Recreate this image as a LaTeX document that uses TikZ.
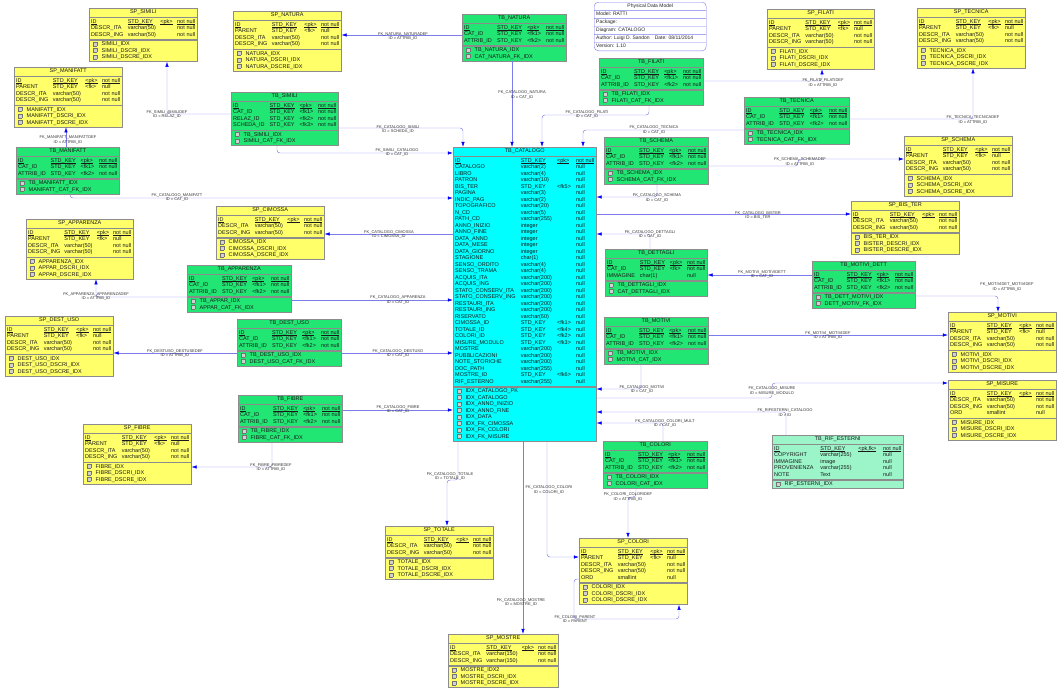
\documentclass[tikz,border=0pt]{standalone}
\usepackage{fontspec}
\setmainfont{Liberation Sans}
\usetikzlibrary{arrows.meta, positioning, fit, shapes.multipart}

\definecolor{spyellow}{HTML}{FFFF6A}
\definecolor{tbgreen}{HTML}{22E673}
\definecolor{catcyan}{HTML}{00FFFF}
\definecolor{rifmint}{HTML}{9CF5C9}
\definecolor{fkline}{HTML}{7C7CEC}

\newcommand{\pk}[1]{\setbox0\hbox{#1}\rlap{\rule[-0.8pt]{\wd0}{0.3pt}}\box0}
\newcommand{\ix}{\strut\hspace*{2pt}{\setlength{\fboxsep}{0pt}\setlength{\fboxrule}{0.3pt}\fcolorbox{black!55}{black!18}{\rule{0pt}{3.6pt}\hspace{3.4pt}}}\hspace{4.5pt}}
\newcommand{\pkrow}{\pk{ID} & \pk{STD\_KEY} & \pk{<pk>} & \pk{not null}\\}
\newcommand{\sprows}{\pkrow PARENT & STD\_KEY & <fk> & null\\ DESCR\_ITA & varchar(50) & & not null\\ DESCR\_ING & varchar(50) & & not null}
\newcommand{\sprowsnp}{\pkrow DESCR\_ITA & varchar(50) & & not null\\ DESCR\_ING & varchar(50) & & not null}
\newcommand{\tbrows}{\pkrow CAT\_ID & STD\_KEY & <fk1> & not null\\ ATTRIB\_ID & STD\_KEY & <fk2> & not null}

% table: name, x, y, width, fill, title, columns, indexes
\newcommand{\dbtable}[8]{%
  \pgfmathsetmacro{\tabw}{#4-4}%
  \node[tbtitle, fill=#5, minimum width=#4pt, anchor=north west] (#1-t) at (#2,#3) {#6};
  \node[tbpart, fill=#5, text width=\tabw pt, below=of #1-t] (#1-c)
    {\noindent\setlength{\tabcolsep}{1.5pt}\begin{tabular*}{\hsize}{@{\extracolsep{\fill}}llll@{}}#7\end{tabular*}};
  \node[tbpart, fill=#5, text width=\tabw pt, align=left, inner ysep=1pt, below=of #1-c] (#1-i) {#8};
  \node[fit=(#1-t)(#1-i), inner sep=0pt] (#1) {};
}

\begin{document}
\catcode`\_=12
\begin{tikzpicture}
[x=1pt, y=-1pt,
tbtitle/.style={draw=black!45, minimum height=8.5pt, inner sep=0.5pt, font=\fontsize{5.5}{6.5}\selectfont, text=black!90},
tbpart/.style={draw=black!45, inner xsep=2pt, inner ysep=1.5pt, font=\fontsize{5.5}{6.5}\selectfont, text=black!90},
pdmbox/.style={rectangle split, rectangle split parts=6, draw=fkline, rounded corners=4pt, fill=white,
  minimum width=112pt, inner xsep=2pt, inner ysep=0.85pt, font=\fontsize{5}{6}\selectfont, text=black!85,
  rectangle split part align={center,left,left,left,left,left}},
fk/.style={draw=fkline, line width=0.45pt, rounded corners=3pt, -{Latex[length=5pt,width=3.4pt,color=blue]}},
lbl/.style={font=\fontsize{4}{4.8}\selectfont, align=center, inner sep=0pt, text=black!80},
node distance=0pt]
\useasboundingbox (0,0) rectangle (1059,688);

\node[pdmbox, anchor=north west] (pdm) at (594,2) {\strut Physical Data Model\nodepart{two}\strut Model: RATTI\nodepart{three}\strut Package:\nodepart{four}\strut Diagram: CATALOGO\nodepart{five}\strut Author: Luigi D. Sandon\quad Date: 08/11/2014\nodepart{six}\strut Version: 1.10};

% left column
\dbtable{spsimili}{89}{8}{108}{spyellow}{SP_SIMILI}{\sprowsnp}{\ix SIMILI_IDX\\ \ix SIMILI_DSCRI_IDX\\ \ix SIMILI_DSCRE_IDX}
\dbtable{spnatura}{233}{11}{108}{spyellow}{SP_NATURA}{\sprows}{\ix NATURA_IDX\\ \ix NATURA_DSCRI_IDX\\ \ix NATURA_DSCRE_IDX}
\dbtable{spmanifatt}{14}{67}{108}{spyellow}{SP_MANIFATT}{\sprows}{\ix MANIFATT_IDX\\ \ix MANIFATT_DSCRI_IDX\\ \ix MANIFATT_DSCRE_IDX}
\dbtable{tbmanifatt}{16}{147}{103}{tbgreen}{TB_MANIFATT}{\tbrows}{\ix TB_MANIFATT_IDX\\ \ix MANIFATT_CAT_FK_IDX}
\dbtable{tbsimili}{231}{92}{107}{tbgreen}{TB_SIMILI}{\pkrow CAT_ID & STD_KEY & <fk1> & not null\\ RELAZ_ID & STD_KEY & <fk2> & not null\\ SCHEDA_ID & STD_KEY & <fk3> & not null}{\ix TB_SIMILI_IDX\\ \ix SIMILI_CAT_FK_IDX}
\dbtable{spcimossa}{216}{206}{108}{spyellow}{SP_CIMOSSA}{\sprowsnp}{\ix CIMOSSA_IDX\\ \ix CIMOSSA_DSCRI_IDX\\ \ix CIMOSSA_DSCRE_IDX}
\dbtable{spapparenza}{26}{219}{107}{spyellow}{SP_APPARENZA}{\sprows}{\ix APPARENZA_IDX\\ \ix APPAR_DSCRI_IDX\\ \ix APPAR_DSCRE_IDX}
\dbtable{tbapparenza}{187}{265}{104}{tbgreen}{TB_APPARENZA}{\tbrows}{\ix TB_APPAR_IDX\\ \ix APPAR_CAT_FK_IDX}
\dbtable{spdestuso}{5}{316}{108}{spyellow}{SP_DEST_USO}{\sprows}{\ix DEST_USO_IDX\\ \ix DEST_USO_DSCRI_IDX\\ \ix DEST_USO_DSCRE_IDX}
\dbtable{tbdestuso}{237}{319}{104}{tbgreen}{TB_DEST_USO}{\tbrows}{\ix TB_DEST_USO_IDX\\ \ix DEST_USO_CAT_FK_IDX}
\dbtable{tbfibre}{238}{395}{104}{tbgreen}{TB_FIBRE}{\tbrows}{\ix TB_FIBRE_IDX\\ \ix FIBRE_CAT_FK_IDX}
\dbtable{spfibre}{83}{424}{108}{spyellow}{SP_FIBRE}{\sprows}{\ix FIBRE_IDX\\ \ix FIBRE_DSCRI_IDX\\ \ix FIBRE_DSCRE_IDX}

% middle
\dbtable{tbnatura}{462}{14}{104}{tbgreen}{TB_NATURA}{\tbrows}{\ix TB_NATURA_IDX\\ \ix CAT_NATURA_FK_IDX}
\dbtable{tbcatalogo}{453}{147}{143}{catcyan}{TB_CATALOGO}{\pkrow
 CATALOGO & varchar(2) & & null\\
 LIBRO & varchar(4) & & null\\
 PATRON & varchar(10) & & null\\
 BIS_TER & STD_KEY & <fk5> & null\\
 PAGINA & varchar(3) & & null\\
 INDIC_PAG & varchar(2) & & null\\
 TOPOGRAFICO & varchar(20) & & null\\
 N_CD & varchar(5) & & null\\
 PATH_CD & varchar(255) & & null\\
 ANNO_INIZIO & integer & & null\\
 ANNO_FINE & integer & & null\\
 DATA_ANNO & integer & & null\\
 DATA_MESE & integer & & null\\
 DATA_GIORNO & integer & & null\\
 STAGIONE & char(1) & & null\\
 SENSO_ORDITO & varchar(4) & & null\\
 SENSO_TRAMA & varchar(4) & & null\\
 ACQUIS_ITA & varchar(200) & & null\\
 ACQUIS_ING & varchar(200) & & null\\
 STATO_CONSERV_ITA & varchar(200) & & null\\
 STATO_CONSERV_ING & varchar(200) & & null\\
 RESTAURI_ITA & varchar(200) & & null\\
 RESTAURI_ING & varchar(200) & & null\\
 RISERVATO & varchar(60) & & null\\
 CIMOSSA_ID & STD_KEY & <fk1> & null\\
 TOTALE_ID & STD_KEY & <fk4> & null\\
 COLORI_ID & STD_KEY & <fk2> & null\\
 MISURE_MODULO & STD_KEY & <fk3> & null\\
 MOSTRE & varchar(200) & & null\\
 PUBBLICAZIONI & varchar(200) & & null\\
 NOTE_STORICHE & varchar(200) & & null\\
 DOC_PATH & varchar(255) & & null\\
 MOSTRE_ID & STD_KEY & <fk6> & null\\
 RIF_ESTERNO & varchar(255) & & null}{\ix IDX_CATALOGO_PK\\ \ix IDX_CATALOGO\\ \ix IDX_ANNO_INIZIO\\ \ix IDX_ANNO_FINE\\ \ix IDX_DATA\\ \ix IDX_FK_CIMOSSA\\ \ix IDX_FK_COLORI\\ \ix IDX_FK_MISURE}
\dbtable{sptotale}{385}{526}{108}{spyellow}{SP_TOTALE}{\sprowsnp}{\ix TOTALE_IDX\\ \ix TOTALE_DSCRI_IDX\\ \ix TOTALE_DSCRE_IDX}
\dbtable{spmostre}{448}{634}{110}{spyellow}{SP_MOSTRE}{\pkrow DESCR_ITA & varchar(150) & & not null\\ DESCR_ING & varchar(150) & & not null}{\ix MOSTRE_IDX2\\ \ix MOSTRE_DSCRI_IDX\\ \ix MOSTRE_DSCRE_IDX}
\dbtable{spcolori}{579}{538}{108}{spyellow}{SP_COLORI}{\sprows\\ ORD & smallint & & null}{\ix COLORI_IDX\\ \ix COLORI_DSCRI_IDX\\ \ix COLORI_DSCRE_IDX}

% right side
\dbtable{tbfilati}{599}{58}{104}{tbgreen}{TB_FILATI}{\tbrows}{\ix TB_FILATI_IDX\\ \ix FILATI_CAT_FK_IDX}
\dbtable{spfilati}{767}{9}{107}{spyellow}{SP_FILATI}{\sprows}{\ix FILATI_IDX\\ \ix FILATI_DSCRI_IDX\\ \ix FILATI_DSCRE_IDX}
\dbtable{sptecnica}{917}{8}{108}{spyellow}{SP_TECNICA}{\sprows}{\ix TECNICA_IDX\\ \ix TECNICA_DSCRI_IDX\\ \ix TECNICA_DSCRE_IDX}
\dbtable{tbtecnica}{744}{97}{105}{tbgreen}{TB_TECNICA}{\tbrows}{\ix TB_TECNICA_IDX\\ \ix TECNICA_CAT_FK_IDX}
\dbtable{tbschema}{604}{137}{104}{tbgreen}{TB_SCHEMA}{\tbrows}{\ix TB_SCHEMA_IDX\\ \ix SCHEMA_CAT_FK_IDX}
\dbtable{spschema}{904}{136}{108}{spyellow}{SP_SCHEMA}{\sprows}{\ix SCHEMA_IDX\\ \ix SCHEMA_DSCRI_IDX\\ \ix SCHEMA_DSCRE_IDX}
\dbtable{spbister}{851}{201}{108}{spyellow}{SP_BIS_TER}{\sprowsnp}{\ix BIS_TER_IDX\\ \ix BISTER_DESCRI_IDX\\ \ix BISTER_DESCRE_IDX}
\dbtable{tbdettagli}{605}{249}{102}{tbgreen}{TB_DETTAGLI}{\pkrow CAT_ID & STD_KEY & <fk> & not null\\ IMMAGINE & char(1) & & null}{\ix TB_DETTAGLI_IDX\\ \ix CAT_DETTAGLI_IDX}
\dbtable{tbmotividett}{812}{261}{103}{tbgreen}{TB_MOTIVI_DETT}{\tbrows}{\ix TB_DETT_MOTIVI_IDX\\ \ix DETT_MOTIV_FK_IDX}
\dbtable{spmotivi}{948}{312}{108}{spyellow}{SP_MOTIVI}{\sprows}{\ix MOTIVI_IDX\\ \ix MOTIVI_DSCRI_IDX\\ \ix MOTIVI_DSCRE_IDX}
\dbtable{tbmotivi}{604}{317}{104}{tbgreen}{TB_MOTIVI}{\tbrows}{\ix TB_MOTIVI_IDX\\ \ix MOTIVI_CAT_IDX}
\dbtable{spmisure}{948}{380}{108}{spyellow}{SP_MISURE}{\sprowsnp\\ ORD & smallint & & null}{\ix MISURE_IDX\\ \ix MISURE_DSCRI_IDX\\ \ix MISURE_DSCRE_IDX}
\dbtable{tbrifesterni}{772}{435}{131}{rifmint}{TB_RIF_ESTERNI}{\pk{ID} & \pk{STD_KEY} & \pk{<pk,fk>} & \pk{not null}\\ COPYRIGHT & varchar(255) & & null\\ IMMAGINE & image & & null\\ PROVENIENZA & varchar(255) & & null\\ NOTE & Text & & null}{\ix RIF_ESTERNI_IDX}
\dbtable{tbcolori}{603}{441}{104}{tbgreen}{TB_COLORI}{\tbrows}{\ix TB_COLORI_IDX\\ \ix COLORI_CAT_IDX}

% references
\draw[fk] (tbsimili.west |- 0,114) -| (spsimili.south -| 167,0);
\node[lbl] (fksimdef) at (167,114.5) {FK_SIMILI_SIMILIDEF\\ID = RELAZ_ID};
\draw[fk] (tbmanifatt.north -| 66,0) -- (spmanifatt.south -| 66,0);
\node[lbl] (fkmandef) at (68,140) {FK_MANIFATT_MANIFATTDEF\\ID = ATTRIB_ID};
\draw[fk] (tbmanifatt.south -| 70,0) |- (tbcatalogo.west |- 0,198);
\node[lbl] (fkcatman) at (177,197.5) {FK_CATALOGO_MANIFATT\\ID = CAT_ID};
\draw[fk] (tbnatura.west |- 0,35) -- (spnatura.east |- 0,35);
\node[lbl] (fknatdef) at (403,36.5) {FK_NATURA_NATURADEF\\ID = ATTRIB_ID};
\draw[fk] (tbnatura.south -| 512,0) -- (tbcatalogo.north -| 512,0);
\node[lbl] (fkcatnat) at (522,95) {FK_CATALOGO_NATURA\\ID = CAT_ID};
\draw[fk] (tbsimili.east |- 0,128) -| (tbcatalogo.north -| 463,0);
\node[lbl] (fkcatsim) at (398,129.5) {FK_CATALOGO_SIMILI\\ID = SCHEDA_ID};
\draw[fk] (tbsimili.south -| 277,0) |- (tbcatalogo.west |- 0,153);
\node[lbl] (fksimcat) at (397,152.5) {FK_SIMILI_CATALOGO\\ID = CAT_ID};
\draw[fk] (tbfilati.south -| 649,0) |- (542,115) -- (tbcatalogo.north -| 542,0);
\node[lbl] (fkcatfil) at (587,114.5) {FK_CATALOGO_FILATI\\ID = CAT_ID};
\draw[fk] (tbfilati.east |- 0,81) -| (spfilati.south -| 822,0);
\node[lbl] (fkfildef) at (823,83) {FK_FILATI_FILATIDEF\\ID = ATTRIB_ID};
\draw[fk] (tbtecnica.west |- 0,130) -| (tbcatalogo.north -| 583,0);
\node[lbl] (fkcattec) at (654,130) {FK_CATALOGO_TECNICA\\ID = CAT_ID};
\draw[fk] (tbtecnica.east |- 0,119) -| (sptecnica.south -| 973,0);
\node[lbl] (fktecdef) at (973,120) {FK_TECNICA_TECNICADEF\\ID = ATTRIB_ID};
\draw[fk] (tbschema.south -| 657,0) |- (tbcatalogo.east |- 0,197);
\node[lbl] (fkcatsch) at (657,198) {FK_CATALOGO_SCHEMA\\ID = CAT_ID};
\draw[fk] (tbschema.east |- 0,166) -| (798,159) -- (spschema.west |- 0,159);
\node[lbl] (fkschdef) at (800,162) {FK_SCHEMA_SCHEMADEF\\ID = ATTRIB_ID};
\draw[fk] (tbcatalogo.east |- 0,214) -- (spbister.west |- 0,214);
\node[lbl] (fkcatbis) at (758,215.5) {FK_CATALOGO_BISTER\\ID = BIS_TER};
\draw[fk] (tbdettagli.north -| 650,0) |- (tbcatalogo.east |- 0,234);
\node[lbl] (fkcatdet) at (650,234.5) {FK_CATALOGO_DETTAGLI\\ID = CAT_ID};
\draw[fk] (tbmotividett.west |- 0,275) -- (tbdettagli.east |- 0,275);
\node[lbl] (fkmotdet) at (762,274.5) {FK_MOTIVI_MOTIVIDETT\\ID = CAT_ID};
\draw[fk] (tbmotividett.east |- 0,296) -| (spmotivi.north -| 998,0);
\node[lbl] (fkmdtdef) at (1007,287) {FK_MOTIVIDET_MOTIVIDEF\\ID = ATTRIB_ID};
\draw[fk] (tbmotivi.east |- 0,335) -- (spmotivi.west |- 0,335);
\node[lbl] (fkmotdef) at (828,335.5) {FK_MOTIVI_MOTIVIDEF\\ID = ATTRIB_ID};
\draw[fk] (tbmotivi.south -| 641,0) |- (tbcatalogo.east |- 0,389);
\node[lbl] (fkcatmot) at (642,389.5) {FK_CATALOGO_MOTIVI\\ID = CAT_ID};
\draw[fk] (tbcatalogo.east |- 0,398) -| (772,383) -- (spmisure.west |- 0,383);
\node[lbl] (fkcatmis) at (772,391) {FK_CATALOGO_MISURE\\ID = MISURE_MODULO};
\draw[fk] (tbrifesterni.north -| 786,0) |- (tbcatalogo.east |- 0,412);
\node[lbl] (fkrifcat) at (785,412.5) {FK_RIFESTERNI_CATALOGO\\ID = ID};
\draw[fk] (tbcolori.north -| 663,0) |- (tbcatalogo.east |- 0,423);
\node[lbl] (fkcatcol) at (665,423.5) {FK_CATALOGO_COLORI_MULT\\ID = CAT_ID};
\draw[fk] (tbcolori.south -| 636,0) |- (628,497) -- (spcolori.north -| 628,0);
\node[lbl] (fkcoldef) at (628,497) {FK_COLORI_COLORIDEF\\ID = ATTRIB_ID};
\draw[fk] (tbcatalogo.south -| 547,0) |- (spcolori.west |- 0,557);
\node[lbl] (fkcatcolo) at (549,490) {FK_CATALOGO_COLORI\\ID = COLORI_ID};
\draw[fk] (tbcatalogo.south -| 523,0) -- (spmostre.north -| 523,0);
\node[lbl] (fkcatmos) at (521,602.5) {FK_CATALOGO_MOSTRE\\ID = MOSTRE_ID};
\draw[fk] (tbcatalogo.south -| 458,0) |- (447,480) -- (sptotale.north -| 447,0);
\node[lbl] (fkcattot) at (450,476.5) {FK_CATALOGO_TOTALE\\ID = TOTALE_ID};
\draw[fk] (spcolori.west |- 0,579) -| (574,619) -| (spcolori.south -| 679,0);
\node[lbl] (fkcolpar) at (575,619) {FK_COLORI_PARENT\\ID = PARENT};
\draw[fk] (tbapparenza.west |- 0,297) -| (spapparenza.south -| 96,0);
\node[lbl] (fkappdef) at (96,296.5) {FK_APPARENZA_APPARENZADEF\\ID = ATTRIB_ID};
\draw[fk] (tbapparenza.east |- 0,300) -- (tbcatalogo.west |- 0,300);
\node[lbl] (fkcatapp) at (398,300) {FK_CATALOGO_APPARENZA\\ID = CAT_ID};
\draw[fk] (tbcatalogo.west |- 0,234) -- (spcimossa.east |- 0,234);
\node[lbl] (fkcatcim) at (389,234.5) {FK_CATALOGO_CIMOSSA\\ID = CIMOSSA_ID};
\draw[fk] (tbdestuso.west |- 0,353) -- (spdestuso.east |- 0,353);
\node[lbl] (fkdesdef) at (175,353.5) {FK_DESTUSO_DESTUSEDEF\\ID = ATTRIB_ID};
\draw[fk] (tbdestuso.east |- 0,353) -- (tbcatalogo.west |- 0,353);
\node[lbl] (fkcatdes) at (398,353.5) {FK_CATALOGO_DESTUSO\\ID = CAT_ID};
\draw[fk] (tbfibre.south -| 272,0) |- (spfibre.east |- 0,467);
\node[lbl] (fkfibdef) at (271,467.5) {FK_FIBRE_FIBREDEF\\ID = ATTRIB_ID};
\draw[fk] (tbfibre.east |- 0,410) -- (tbcatalogo.west |- 0,410);
\node[lbl] (fkcatfib) at (398,409.5) {FK_CATALOGO_FIBRE\\ID = CAT_ID};

\end{tikzpicture}
\end{document}
